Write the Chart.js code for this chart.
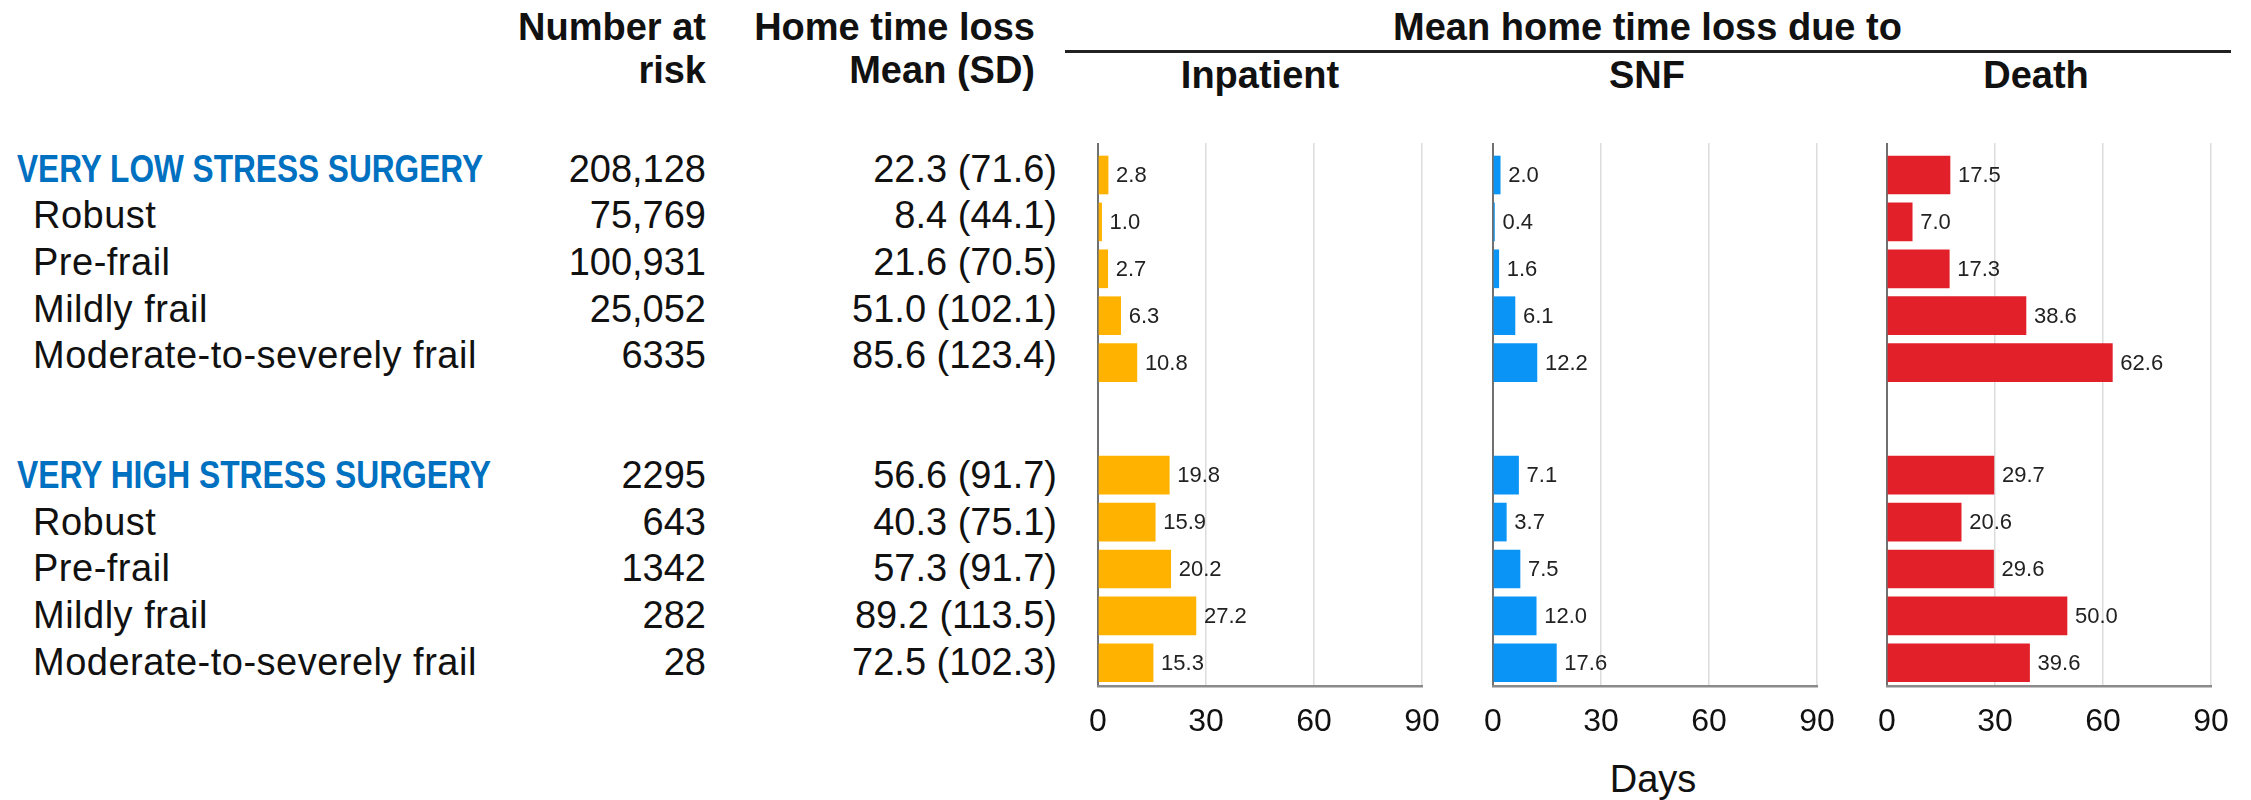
<!DOCTYPE html>
<html><head><meta charset="utf-8">
<script src="https://cdn.jsdelivr.net/npm/chart.js@4/dist/chart.umd.min.js"></script>
<style>
html,body{margin:0;padding:0;background:#fff;}
#page{position:relative;width:2251px;height:800px;overflow:hidden;font-family:"Liberation Sans",Arial,Helvetica,sans-serif;color:#111;}
.t{position:absolute;white-space:nowrap;line-height:1;}
.b{font-weight:bold;}
.lbl{letter-spacing:0.5px;}
.grp{font-weight:bold;color:#0070C0;transform-origin:0 0;}
canvas{position:absolute;}
</style></head><body><div id="page"></div>
<script>
// ---------------- data ----------------
const groupNames = ['VERY LOW STRESS SURGERY', 'VERY HIGH STRESS SURGERY'];
const frailtyLevels = ['Robust', 'Pre-frail', 'Mildly frail', 'Moderate-to-severely frail'];
// first value of each group = overall group, then the four frailty levels
const numberAtRisk = [[208128, 75769, 100931, 25052, 6335], [2295, 643, 1342, 282, 28]];
const homeLossMean = [[22.3, 8.4, 21.6, 51.0, 85.6], [56.6, 40.3, 57.3, 89.2, 72.5]];
const homeLossSD   = [[71.6, 44.1, 70.5, 102.1, 123.4], [91.7, 75.1, 91.7, 113.5, 102.3]];
const inpatientDays = [[2.8, 1.0, 2.7, 6.3, 10.8], [19.8, 15.9, 20.2, 27.2, 15.3]];
const snfDays       = [[2.0, 0.4, 1.6, 6.1, 12.2], [7.1, 3.7, 7.5, 12.0, 17.6]];
const deathDays     = [[17.5, 7.0, 17.3, 38.6, 62.6], [29.7, 20.6, 29.6, 50.0, 39.6]];
const panelTitles = ['Inpatient', 'SNF', 'Death'];
const xTickValues = [0, 30, 60, 90];

// ---------------- layout / style ----------------
const FONT = '"Liberation Sans", Arial, Helvetica, sans-serif';
const COLORS = ['#FFB300', '#0A94F5', '#E2202A'];
const L = {
  plotLeft: [1098, 1493, 1887], plotWidth: 324, plotTop: 143, plotBottom: 686,
  canvasTop: 130, canvasPad: 40, axisHeight: 60,
  barRow0: 175, rowStep: 46.9, groupOffsetRows: 6.4, barThickness: 38,
  textBase0: 181.8, textStep: 46.65, textGroupOffset: 306.5,
  titleCenters: [1260, 1647, 2036],
  groupLabelWidths: [466, 474]
};

const page = document.getElementById('page');
function addText(txt, x, baseline, size, align, cls) {
  const d = document.createElement('div');
  d.className = 't ' + (cls || '');
  d.textContent = txt;
  d.style.fontSize = size + 'px';
  d.style.top = (baseline - 0.8465 * size) + 'px';
  if (align === 'right') d.style.right = (2251 - x) + 'px';
  else if (align === 'center') { d.style.left = x + 'px'; d.style.transform = 'translateX(-50%)'; }
  else d.style.left = x + 'px';
  page.appendChild(d);
  return d;
}
function fmtN(n) { return n >= 10000 ? n.toLocaleString('en-US') : String(n); }

// headers
addText('Number at', 706, 40, 38, 'right', 'b');
addText('risk', 706, 83.5, 38, 'right', 'b');
addText('Home time loss', 1035, 40, 38, 'right', 'b');
addText('Mean (SD)', 1035, 83.5, 38, 'right', 'b');
addText('Mean home time loss due to', 1647.5, 40, 38, 'center', 'b');
const rule = document.createElement('div');
rule.style.cssText = 'position:absolute;left:1065px;top:50px;width:1166px;height:3px;background:#222;';
page.appendChild(rule);
panelTitles.forEach((t, k) => addText(t, L.titleCenters[k], 88, 38, 'center', 'b'));
addText('Days', 1653, 792, 38, 'center');

// table rows
groupNames.forEach((g, gi) => {
  for (let r = 0; r < 5; r++) {
    const base = L.textBase0 + gi * L.textGroupOffset + r * L.textStep;
    if (r === 0) {
      const d = addText(g, 17, base, 38, 'left', 'grp');
      const natural = d.getBoundingClientRect().width;
      d.style.transform = 'scaleX(' + (L.groupLabelWidths[gi] / natural) + ')';
    } else addText(frailtyLevels[r - 1], 33, base, 38, 'left', 'lbl');
    addText(fmtN(numberAtRisk[gi][r]), 706, base, 38, 'right');
    addText(homeLossMean[gi][r].toFixed(1) + ' (' + homeLossSD[gi][r].toFixed(1) + ')', 1057, base, 38, 'right');
  }
});

// ---------------- charts ----------------
const valueLabels = {
  id: 'valueLabels',
  afterDatasetsDraw(chart) {
    const ctx = chart.ctx;
    const meta = chart.getDatasetMeta(0);
    const ds = chart.data.datasets[0].data;
    ctx.save();
    ctx.font = '22px ' + FONT;
    ctx.fillStyle = '#222';
    ctx.textBaseline = 'middle';
    ctx.textAlign = 'left';
    meta.data.forEach((bar, i) => {
      ctx.fillText(ds[i].x.toFixed(1), bar.x + 8, bar.y + 1);
    });
    ctx.restore();
  }
};

const panelData = [inpatientDays, snfDays, deathDays];
const yMin = (L.plotTop - L.barRow0) / L.rowStep;
const yMax = (L.plotBottom - L.barRow0) / L.rowStep;

panelData.forEach((vals, k) => {
  const cv = document.createElement('canvas');
  const w = L.plotWidth + 2 * L.canvasPad;
  const h = 800 - L.canvasTop;
  cv.width = w; cv.height = h;
  cv.style.left = (L.plotLeft[k] - L.canvasPad) + 'px';
  cv.style.top = L.canvasTop + 'px';
  cv.style.width = w + 'px'; cv.style.height = h + 'px';
  page.appendChild(cv);
  const pts = [];
  vals.forEach((grp, gi) => grp.forEach((v, r) => pts.push({ x: v, y: gi * L.groupOffsetRows + r })));
  new Chart(cv, {
    type: 'bar',
    data: { datasets: [{ data: pts, backgroundColor: COLORS[k], borderWidth: 0, barThickness: L.barThickness }] },
    options: {
      indexAxis: 'y',
      responsive: false, animation: false, devicePixelRatio: 1,
      layout: { padding: { left: L.canvasPad, right: L.canvasPad, top: L.plotTop - L.canvasTop,
        bottom: h - (L.plotBottom - L.canvasTop) - L.axisHeight } },
      plugins: { legend: { display: false }, tooltip: { enabled: false } },
      scales: {
        x: {
          type: 'linear', min: xTickValues[0], max: xTickValues[xTickValues.length - 1],
          afterBuildTicks: s => { s.ticks = xTickValues.map(v => ({ value: v })); },
          afterFit: s => { s.paddingLeft = 0; s.paddingRight = 0; s.height = L.axisHeight; },
          ticks: { font: { size: 32, family: FONT }, color: '#111', padding: 17, maxRotation: 0, autoSkip: false },
          grid: {
            drawTicks: false,
            color: c => (c.tick && c.tick.value === 0) ? '#707070' : '#dcdcdc',
            lineWidth: c => (c.tick && c.tick.value === 0) ? 2 : 1.5
          },
          border: { display: true, color: '#8a8a8a', width: 2.5 }
        },
        y: { type: 'linear', reverse: true, bounds: 'data', offset: false, min: yMin, max: yMax, display: false }
      }
    },
    plugins: [valueLabels]
  });
});
</script></body></html>
